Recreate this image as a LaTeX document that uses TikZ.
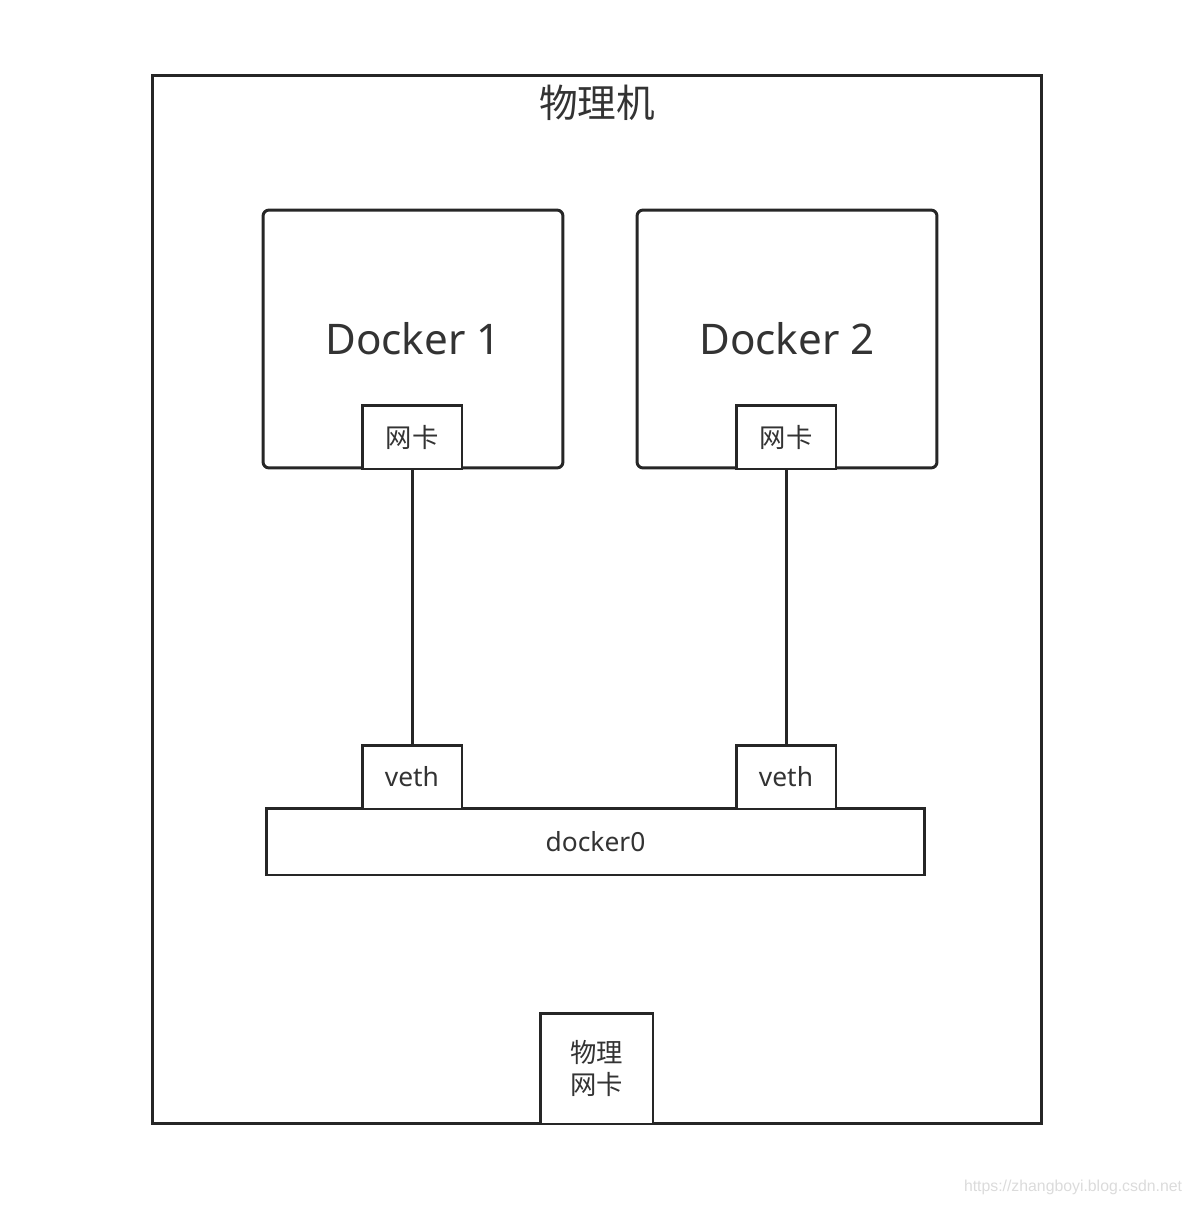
\documentclass[tikz,border=0pt]{standalone}
\usepackage{fontspec}
\setmainfont{Noto Sans}
\newfontfamily\cjk{Noto Sans CJK SC}
\newfontfamily\wmfont{Liberation Sans}
\usepackage{tikz}
\usetikzlibrary{positioning}
\definecolor{linec}{HTML}{262626}
\definecolor{textc}{HTML}{333333}

\begin{document}
\begin{tikzpicture}[x=0.02cm, y=-0.02cm, line width=1.7pt,
  box/.style={draw=linec, fill=white, inner sep=0pt, text=textc},
  port/.style={box, minimum width=2cm, minimum height=1.28cm, font=\fontsize{15}{18}\selectfont},
  dock/.style={box, rounded corners=0.12cm, minimum width=6cm, minimum height=5.16cm, font=\fontsize{24}{28}\selectfont},
  link/.style={draw=linec}]
\useasboundingbox (0,0) rectangle (1192,1206);
\node[box, fill=none, minimum width=17.8cm, minimum height=20.98cm] (host) at (597,599.5) {};
\node[text=textc, font=\cjk\fontsize{22}{26}\selectfont] (title) at (597,103) {物理机};
\node[dock] (dock1) at (413,339) {Docker 1};
\node[dock] (dock2) at (787,339) {Docker 2};
\node[port, font=\cjk\fontsize{15}{18}\selectfont] (nic1) at (412,437) {网卡};
\node[port, font=\cjk\fontsize{15}{18}\selectfont] (nic2) at (786,437) {网卡};
\node[box, minimum width=13.18cm, minimum height=1.34cm, font=\fontsize{15}{18}\selectfont] (bridge) at (595.5,841.5) {docker0};
\node[port] (veth1) at (412,777) {veth};
\node[port] (veth2) at (786,777) {veth};
\node[box, minimum width=2.26cm, minimum height=2.22cm, align=center, font=\cjk\fontsize{15}{18.7}\selectfont] (phys) at (596.5,1068.5) {物理\\网卡};
\node[text=black!14, font=\wmfont\fontsize{9}{11}\selectfont] (mark) at (1073,1187) {https://zhangboyi.blog.csdn.net};
\draw[link] (nic1) -- (veth1);
\draw[link] (nic2) -- (veth2);
\end{tikzpicture}
\end{document}
